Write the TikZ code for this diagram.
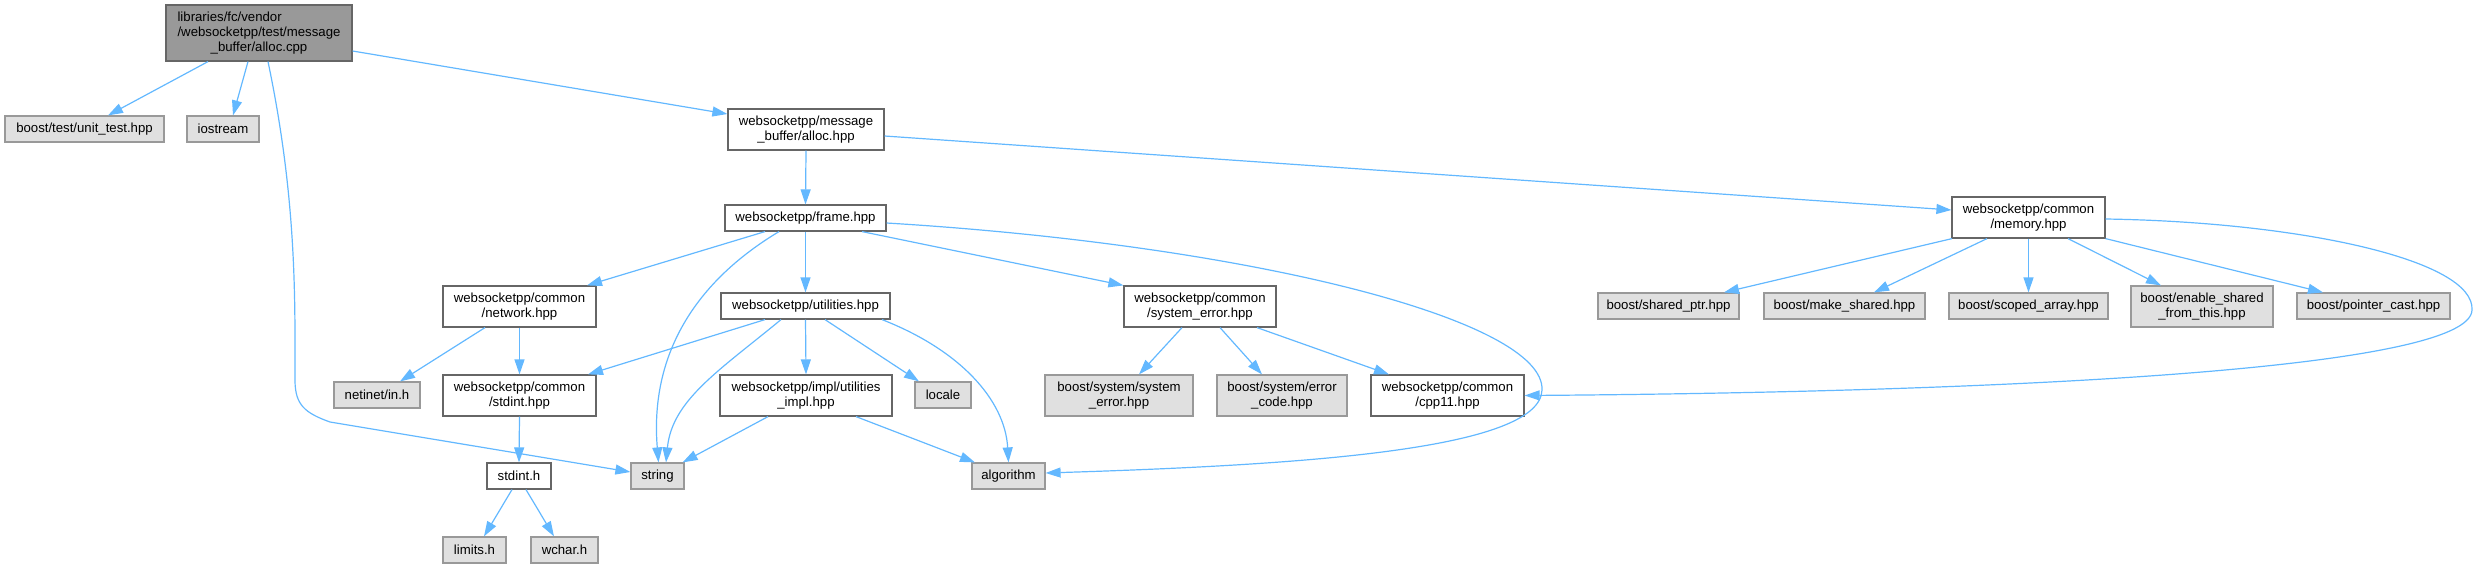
\documentclass[tikz,border=0pt]{standalone}
\usepackage{fontspec}
\setmainfont{Liberation Sans}
\usetikzlibrary{arrows.meta,calc}
\definecolor{eblue}{HTML}{63B8FF}
\definecolor{cdark}{HTML}{666666}
\definecolor{cmid}{HTML}{999999}
\definecolor{clight}{HTML}{E0E0E0}
\newcommand\dfont{\fontsize{6.6}{7.5}\selectfont}
\tikzset{
  basebox/.style={draw, line width=0.6pt, inner sep=0pt, align=center, font=\dfont},
  wbox/.style={basebox, draw=cdark, fill=white},
  gbox/.style={basebox, draw=cmid, fill=clight},
  rootbox/.style={basebox, draw=cdark, fill=cmid},
  sz/.style 2 args={minimum width={#1*0.5pt}, minimum height={#2*0.5pt}},
  edge/.style={draw=eblue, line width=0.6pt, -{Triangle[length=7.5pt,width=5pt]}},
}
\begin{document}
\begin{tikzpicture}[x=0.5pt,y=-0.5pt]
\useasboundingbox (0,0) rectangle (2478,568);
% nodes
\node[rootbox, sz={186}{56}] (root) at (259,33) {\begin{tabular}{@{}l@{}}libraries/fc/vendor\\/websocketpp/test/message\\\multicolumn{1}{@{}c@{}}{\_buffer/alloc.cpp}\end{tabular}};
\node[gbox, sz={159}{26}] (unit) at (84.5,129) {boost/test/unit\_test.hpp};
\node[gbox, sz={72}{26}] (iostream) at (223,129) {iostream};
\node[wbox, sz={156}{41}] (alloch) at (806,129.5) {websocketpp/message\\\_buffer/alloc.hpp};
\node[wbox, sz={161}{26}] (frame) at (805.5,218) {websocketpp/frame.hpp};
\node[wbox, sz={153}{41}] (memory) at (2028.5,217.5) {websocketpp/common\\/memory.hpp};
\node[wbox, sz={153}{41}] (network) at (519.5,306.5) {websocketpp/common\\/network.hpp};
\node[wbox, sz={169}{26}] (utilities) at (805.5,306) {websocketpp/utilities.hpp};
\node[wbox, sz={152}{41}] (syserr) at (1200,306.5) {websocketpp/common\\/system\_error.hpp};
\node[gbox, sz={141}{26}] (sharedptr) at (1668.5,306) {boost/shared\_ptr.hpp};
\node[gbox, sz={161}{26}] (makeshared) at (1844.5,306) {boost/make\_shared.hpp};
\node[gbox, sz={159}{26}] (scoped) at (2028.5,306) {boost/scoped\_array.hpp};
\node[gbox, sz={142}{41}] (enable) at (2202,306.5) {boost/enable\_shared\\\_from\_this.hpp};
\node[gbox, sz={153}{26}] (pointer) at (2373.5,306) {boost/pointer\_cast.hpp};
\node[gbox, sz={86}{26}] (netinet) at (377,395) {netinet/in.h};
\node[wbox, sz={153}{41}] (stdinthpp) at (519.5,395.5) {websocketpp/common\\/stdint.hpp};
\node[wbox, sz={172}{41}] (utilimpl) at (806,395.5) {websocketpp/impl/utilities\\\_impl.hpp};
\node[gbox, sz={56}{26}] (locale) at (943,395) {locale};
\node[gbox, sz={148}{41}] (bsyserr) at (1119,395.5) {boost/system/system\\\_error.hpp};
\node[gbox, sz={130}{41}] (errcode) at (1282,395.5) {boost/system/error\\\_code.hpp};
\node[wbox, sz={153}{41}] (cpp11) at (1447.5,395.5) {websocketpp/common\\/cpp11.hpp};
\node[wbox, sz={64}{26}] (stdinth) at (519,476) {stdint.h};
\node[gbox, sz={53}{26}] (string) at (657.5,476) {string};
\node[gbox, sz={73}{26}] (algorithm) at (1008.5,476) {algorithm};
\node[gbox, sz={63}{26}] (limits) at (474.5,550) {limits.h};
\node[gbox, sz={67}{26}] (wchar) at (564.5,550) {wchar.h};
% edges
\draw[edge] ([xshift=-25.5pt]root.south) -- ([xshift=11.75pt]unit.north);
\draw[edge] ([xshift=-5.5pt]root.south) -- ([xshift=5pt]iostream.north);
\draw[edge] ([yshift=-9pt]root.east) -- ([yshift=7.75pt]alloch.west);
\draw[edge] ([xshift=4.5pt]root.south) .. controls (297,200) and (295,300) .. (295,380) .. controls (295,405) and (305,413) .. (330,422) -- ([yshift=2pt]string.west);
\draw[edge] (alloch.south) -- (frame.north);
\draw[edge] ([yshift=-3.25pt]alloch.east) -- ([yshift=3.75pt]memory.west);
\draw[edge] ([xshift=-20.25pt]frame.south) -- ([xshift=33.75pt]network.north);
\draw[edge] ([xshift=-13.25pt]frame.south) .. controls (690,285) and (650,360) .. ([xshift=0.5pt]string.north);
\draw[edge] (frame.south) -- (utilities.north);
\draw[edge] ([xshift=28.25pt]frame.south) -- (syserr.north west);
\draw[edge] ([yshift=-2.5pt]frame.east) .. controls (1250,245) and (1545,320) .. (1542,390) .. controls (1540,450) and (1300,465) .. ([yshift=1.5pt]algorithm.east);
\draw[edge] ([yshift=-0.75pt]memory.east) .. controls (2300,222) and (2475,260) .. (2472,310) .. controls (2470,370) and (2000,392) .. (cpp11.east);
\draw[edge] ([xshift=-17.25pt]network.south) -- ([xshift=11.5pt]netinet.north);
\draw[edge] (network.south) -- (stdinthpp.north);
\draw[edge] ([xshift=-20.25pt]utilities.south) -- ([xshift=34.25pt]stdinthpp.north);
\draw[edge] ([xshift=-12.25pt]utilities.south) .. controls (720,370) and (672,400) .. ([xshift=4.25pt]string.north);
\draw[edge] (utilities.south) -- (utilimpl.north);
\draw[edge] ([xshift=9.75pt]utilities.south) -- ([xshift=-12pt]locale.north);
\draw[edge] ([xshift=38.25pt]utilities.south) .. controls (960,350) and (1005,400) .. (algorithm.north);
\draw[edge] (stdinthpp.south) -- (stdinth.north);
\draw[edge] ([xshift=-19pt]utilimpl.south) -- ([xshift=-1pt]string.north east);
\draw[edge] ([xshift=25pt]utilimpl.south) -- ([xshift=-16.75pt]algorithm.north);
\draw[edge] ([xshift=-3.5pt]stdinth.south) -- ([xshift=4.75pt]limits.north);
\draw[edge] ([xshift=3.5pt]stdinth.south) -- ([xshift=-5.25pt]wchar.north);
\draw[edge] ([xshift=-9pt]syserr.south) -- ([xshift=10pt]bsyserr.north);
\draw[edge] ([xshift=10pt]syserr.south) -- ([xshift=-10pt]errcode.north);
\draw[edge] ([xshift=28.5pt]syserr.south) -- ([xshift=-29.25pt]cpp11.north);
\draw[edge] ([xshift=-38.25pt]memory.south) -- ([xshift=27.75pt]sharedptr.north);
\draw[edge] ([xshift=-20.75pt]memory.south) -- ([xshift=14.75pt]makeshared.north);
\draw[edge] (memory.south) -- (scoped.north);
\draw[edge] ([xshift=19.75pt]memory.south) -- ([xshift=-20.5pt]enable.north);
\draw[edge] (memory.south east) -- ([xshift=-25.25pt]pointer.north);
\end{tikzpicture}
\end{document}
